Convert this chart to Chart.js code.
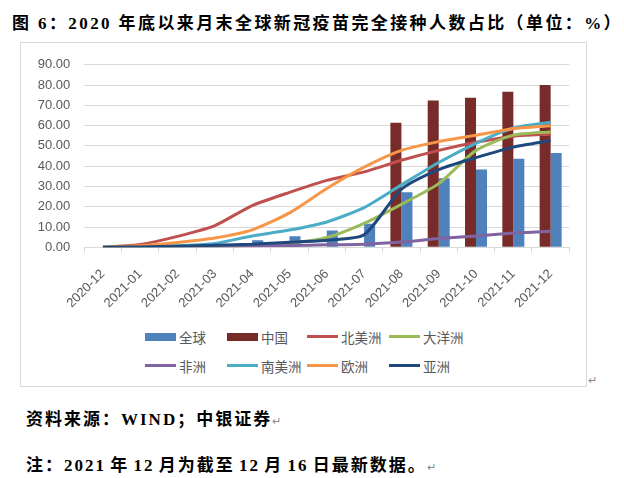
<!DOCTYPE html>
<html>
<head>
<meta charset="utf-8">
<script src="https://cdn.jsdelivr.net/npm/chart.js@4.4.0/dist/chart.umd.min.js"></script>
<style>
  body { margin: 0; width: 624px; height: 478px; background: #fff; position: relative; overflow: hidden;
         font-family: "Liberation Serif", "Noto Sans CJK SC", serif; }
  .title { position: absolute; left: 12px; top: 9px; font-size: 17px; font-weight: bold;
           letter-spacing: 2.4px; white-space: nowrap; color: #000; }
  .frame { position: absolute; left: 20px; top: 42px; width: 567px; height: 345px;
           border: 1px solid #d9d9d9; box-sizing: border-box; }
  .frame canvas { position: absolute; left: 0; top: 0; }
  #legend { position: absolute; left: 145px; top: 322px; display: grid;
            grid-template-columns: 82px 80px 82px 90px; grid-auto-rows: 29px;
            font-family: "Noto Sans CJK SC", sans-serif; font-size: 13.5px; color: #595959; }
  #legend .item { display: flex; align-items: center; white-space: nowrap; }
  #legend .mark { width: 31px; margin-right: 3px; }
  .note { position: absolute; left: 26px; font-size: 17px; font-weight: bold; letter-spacing: 2px;
          white-space: nowrap; color: #000; }
  .ret { font-size: 11px; font-weight: normal; color: #888; letter-spacing: 0; }
  .frameRet { position: absolute; left: 588px; top: 374px; font-size: 11px; color: #888; }
</style>
</head>
<body>
<div class="title">图 6：2020 年底以来月末全球新冠疫苗完全接种人数占比（单位：%）</div>
<div class="frame"><canvas id="c" width="565" height="270"></canvas></div>
<div id="legend"></div>
<div class="frameRet">↵</div>
<div class="note" style="top:405px">资料来源：WIND；中银证券<span class="ret">↵</span></div>
<div class="note" style="top:451px; word-spacing:-2px">注：2021 年 12 月为截至 12 月 16 日最新数据。<span class="ret">↵</span></div>
<script>
const months = ['2020-12', '2021-01', '2021-02', '2021-03', '2021-04', '2021-05', '2021-06',
                '2021-07', '2021-08', '2021-09', '2021-10', '2021-11', '2021-12'];
const globalVals   = [0, 0.1, 0.4, 1.5, 3.5, 5.4, 8.3, 11.6, 27.1, 34.0, 38.4, 43.7, 46.5];
const chinaVals    = [null, null, null, null, null, null, null, null, 61.4, 72.4, 73.8, 76.7, 80.0];
const northAmerica = [0, 1.4, 5.4, 10.7, 20.6, 27.1, 33.0, 37.2, 42.9, 47.8, 51.8, 54.8, 55.8];
const oceania      = [0, 0.1, 0.2, 0.4, 1.0, 2.0, 4.8, 11.8, 21.2, 31.4, 47.8, 55.3, 56.9];
const africa       = [0, 0.1, 0.2, 0.4, 0.6, 0.9, 1.2, 1.5, 2.6, 4.3, 5.6, 7.0, 7.9];
const southAmerica = [0, 0.2, 0.8, 1.9, 5.6, 8.5, 12.5, 19.6, 30.8, 41.8, 51.3, 58.8, 61.7];
const europe       = [0, 0.8, 2.4, 4.6, 8.6, 17.0, 29.0, 39.5, 47.8, 52.1, 55.3, 58.5, 59.9];
const asia         = [0, 0.2, 0.5, 1.0, 1.5, 2.5, 3.5, 6.2, 28.6, 38.3, 44.2, 49.4, 52.6];
const yTicks = [0, 10, 20, 30, 40, 50, 60, 70, 80, 90];

const gridColor = '#d9d9d9';
const textColor = '#595959';

function lineSet(label, data, color, order) {
  return { type: 'line', label: label, data: data, borderColor: color, backgroundColor: color,
           borderWidth: 3, pointRadius: 0, tension: 0.22, fill: false, order: order };
}

const chart = new Chart(document.getElementById('c'), {
  type: 'bar',
  data: {
    labels: months,
    datasets: [
      { label: '全球', data: globalVals, backgroundColor: '#4f81bd', order: 10,
        categoryPercentage: 0.59, barPercentage: 1.0 },
      { label: '中国', data: chinaVals, backgroundColor: '#772c2a', order: 9,
        categoryPercentage: 0.59, barPercentage: 1.0 },
      lineSet('北美洲', northAmerica, '#c0504d', 6),
      lineSet('大洋洲', oceania, '#9bbb59', 5),
      lineSet('非洲', africa, '#8064a2', 4),
      lineSet('南美洲', southAmerica, '#4bacc6', 3),
      lineSet('欧洲', europe, '#f79646', 2),
      lineSet('亚洲', asia, '#1f497d', 1)
    ]
  },
  options: {
    responsive: false,
    animation: false,
    layout: { padding: { top: 16.3, right: 16.7, left: 0, bottom: 0 } },
    plugins: { legend: { display: false }, tooltip: { enabled: false } },
    scales: {
      x: {
        grid: { drawOnChartArea: false, drawTicks: true, tickLength: 5, color: gridColor, offset: true },
        border: { color: gridColor },
        ticks: { color: textColor, font: { family: 'Liberation Sans', size: 13 },
                 maxRotation: 45, minRotation: 45, padding: 14, autoSkip: false },
        afterFit: (s) => { s.height = 65.7; }
      },
      y: {
        min: 0, max: 90,
        afterBuildTicks: (s) => { s.ticks = yTicks.map(v => ({ value: v })); },
        grid: { color: gridColor, drawTicks: false },
        border: { display: false },
        ticks: { color: textColor, font: { family: 'Liberation Sans', size: 13 }, padding: 14,
                 callback: (v) => Number(v).toFixed(2) },
        afterFit: (s) => { s.width = 63.3; }
      }
    }
  }
});

// legend laid out in a fixed 4-column grid like the original
const legend = document.getElementById('legend');
chart.data.datasets.forEach((ds) => {
  const item = document.createElement('div');
  item.className = 'item';
  const mark = document.createElement('span');
  mark.className = 'mark';
  mark.style.height = ds.type === 'line' ? '3px' : '8px';
  mark.style.background = ds.type === 'line' ? ds.borderColor : ds.backgroundColor;
  item.appendChild(mark);
  item.appendChild(document.createTextNode(ds.label));
  legend.appendChild(item);
});
</script>
</body>
</html>
